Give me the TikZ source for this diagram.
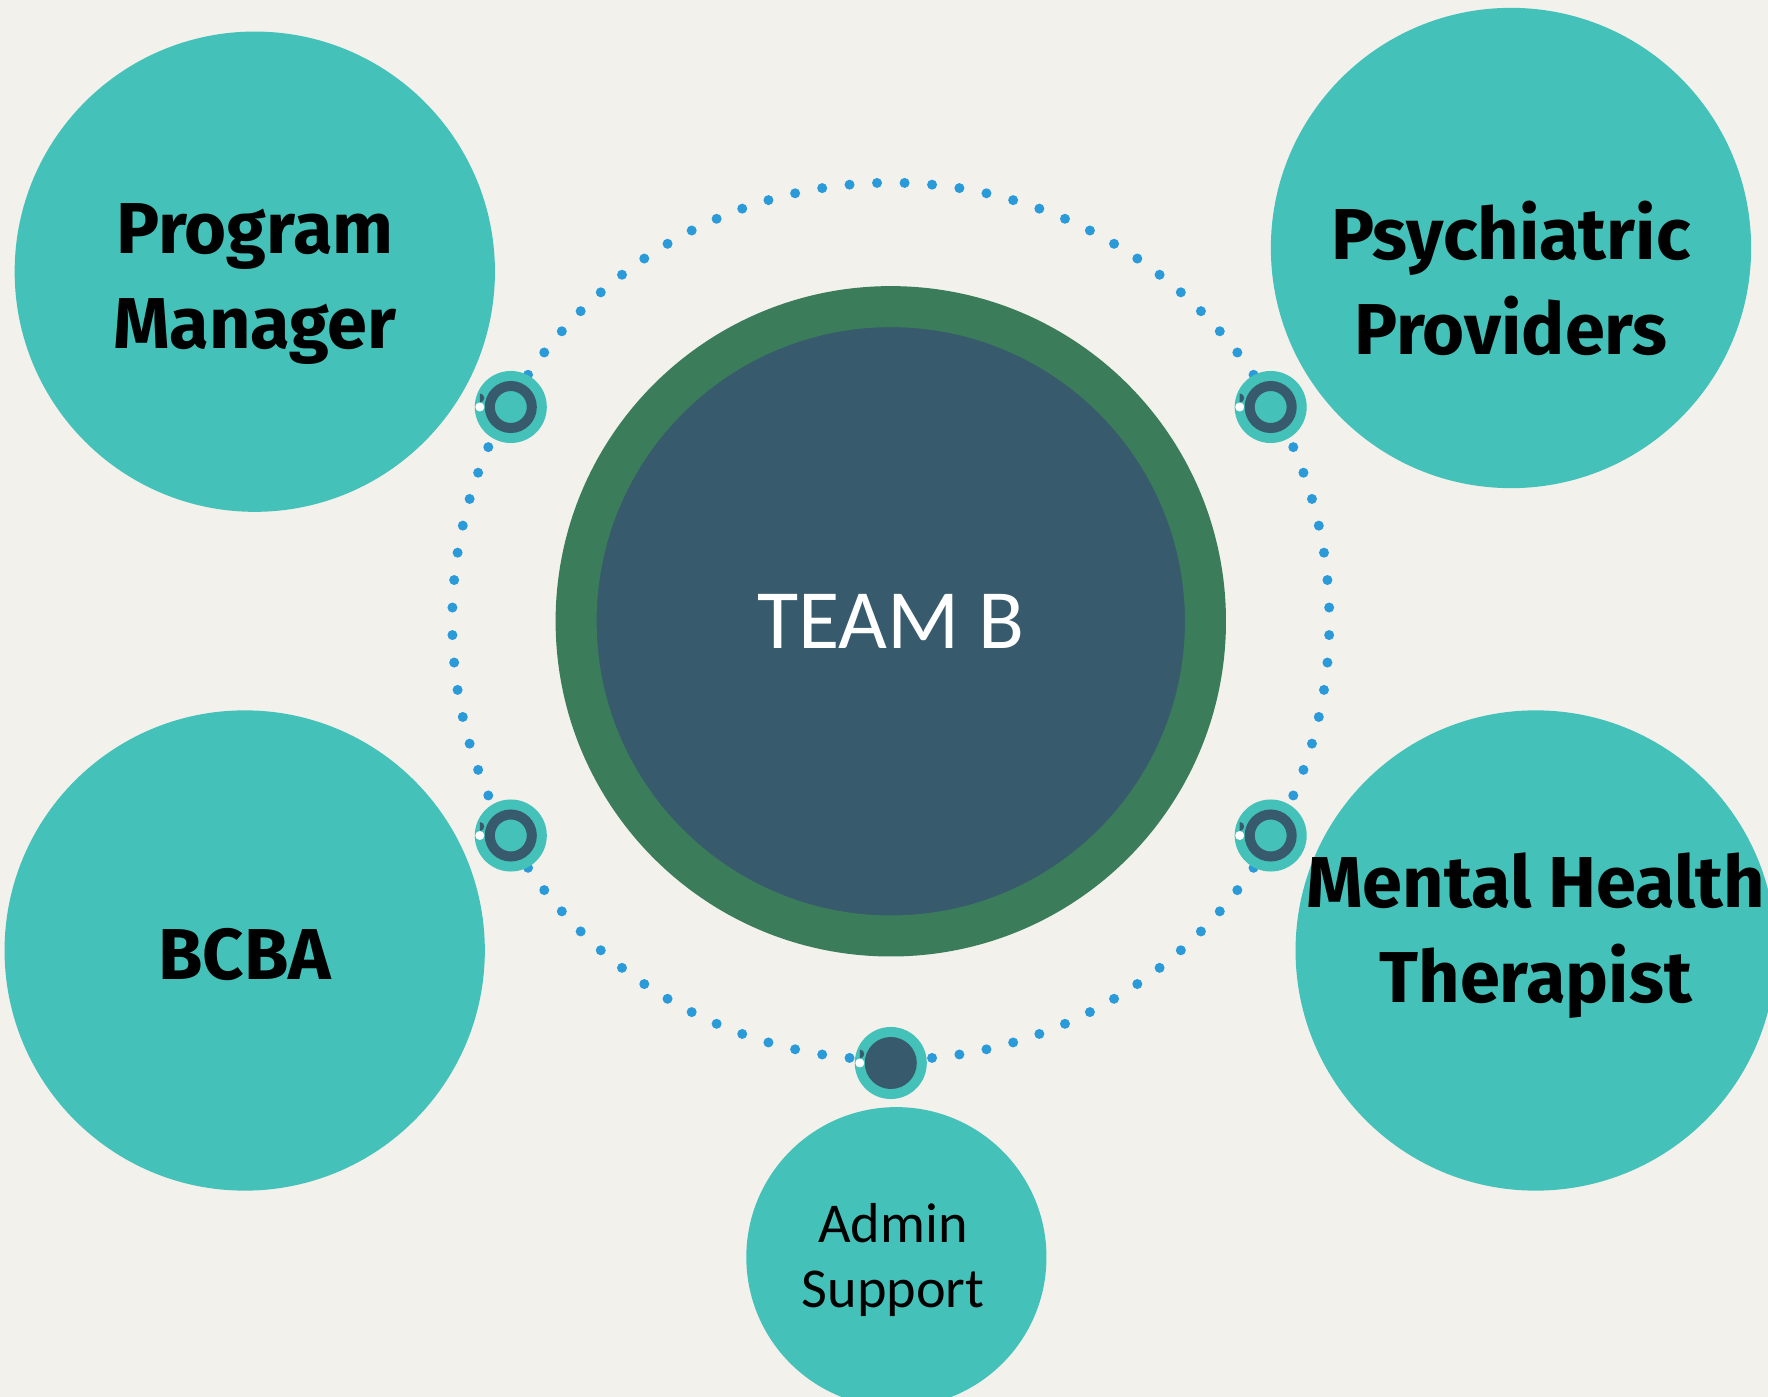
\documentclass[tikz,border=0pt]{standalone}
\usepackage{fontspec}
\usetikzlibrary{calc}
\newfontfamily\labfont{Fira Sans}
\newfontfamily\calfont{Carlito}
\definecolor{bgc}{HTML}{F2F1EC}
\definecolor{tealc}{HTML}{44C1B9}
\definecolor{darkc}{HTML}{375B6C}
\definecolor{greenc}{HTML}{3B7D5B}
\definecolor{dotc}{HTML}{2A9AD8}
\tikzset{
  bigc/.style={circle, fill=tealc, minimum size=4.8cm, inner sep=0pt, outer sep=0pt},
  biglab/.style={align=center, inner sep=0pt, text=black,
    font=\labfont\bfseries\fontsize{20.5}{27}\selectfont},
  connouter/.style={circle, fill=tealc, minimum size=7.2mm, inner sep=0pt},
  connring/.style={circle, draw=darkc, line width=1mm, fill=tealc, minimum size=4.2mm, inner sep=0pt},
  conndark/.style={circle, fill=darkc, minimum size=5.2mm, inner sep=0pt},
  dotmark/.style={circle, fill=dotc, minimum size=1mm, inner sep=0pt},
}
\begin{document}
\begin{tikzpicture}[x=0.01cm, y=-0.01cm]
\useasboundingbox[fill=bgc] (0,0) rectangle (1768,1397);
% dotted ring
\coordinate (ctr) at (890.8,621.3);
\foreach \i in {0,...,99} {
  \node[dotmark] at ($(ctr)+({1.8+3.6*\i}:438.6)$) {};
}
% outer circles
\node[bigc] (pm) at (254.8,271.7) {};
\node[biglab] (pmtext) at (254.8,284) {Program\\Manager};
\node[bigc] (pp) at (1511,248) {};
\node[biglab] (pptext) at (1511,278) {Psychiatric\\Providers};
\node[bigc] (bcba) at (244.7,950.5) {};
\node[biglab] (bcbatext) at (244.7,955) {BCBA};
\node[bigc] (mht) at (1535.7,950.5) {};
\node[biglab] (mhttext) at (1535.7,936) {Mental Health\\Therapist};
\node[circle, fill=tealc, minimum size=3.0cm, inner sep=0pt, align=center,
  font=\calfont\fontsize{16}{18.5}\selectfont] (admin) at (896.4,1257.2) {};
\node[align=center, inner sep=0pt, font=\calfont\fontsize{16}{18.5}\selectfont] (admintext) at (893,1260) {Admin\\Support};
% center
\node[circle, fill=darkc, draw=greenc, line width=4.1mm, minimum size=6.29cm, inner sep=0pt,
  text=white, font=\calfont\fontsize{24}{28}\selectfont] (team) at (ctr) {TEAM B};
% connectors
\foreach \n/\p in {c1/{(510.8,407)}, c2/{(1270.7,407)}, c3/{(510.8,835.5)}, c4/{(1270.7,835.5)}} {
  \node[connouter] (\n) at \p {};
  \node[connring] (\n r) at \p {};
  \fill[white] ($(\n)+(-31,0)$) circle[radius=4.5];
  \fill[darkc] ($(\n)+(-31,-4.5)$) arc[start angle=90, end angle=-90, radius=4.5] -- cycle;
}
\node[connouter] (c5) at (890.8,1063) {};
\node[conndark] (c5d) at (c5) {};
\fill[white] ($(c5)+(-31,0)$) circle[radius=4.5];
\fill[darkc] ($(c5)+(-31,-4.5)$) arc[start angle=90, end angle=-90, radius=4.5] -- cycle;
\end{tikzpicture}
\end{document}
